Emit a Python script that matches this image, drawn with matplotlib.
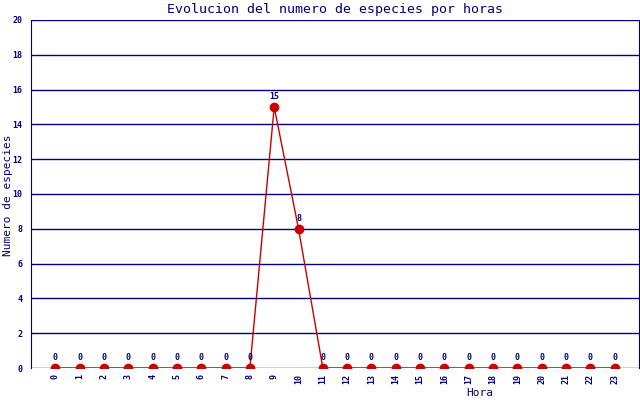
import matplotlib.pyplot as plt

horas = list(range(24))
especies = [0, 0, 0, 0, 0, 0, 0, 0, 0, 15, 8, 0, 0, 0, 0, 0, 0, 0, 0, 0, 0, 0, 0, 0]
y_ticks = [0, 2, 4, 6, 8, 10, 12, 14, 16, 18, 20]

navy = "#000080"
red = "#cc0000"

fig = plt.figure(figsize=(6.4, 4.0), dpi=100)
ax = fig.add_axes([31 / 640, 32 / 400, 608 / 640, 348 / 400])

ax.set_xlim(-1, 24)
ax.set_ylim(0, 20)

for t in y_ticks:
    ax.axhline(t, color=navy, linewidth=1, zorder=1)

ax.plot(horas, especies, color=red, linewidth=1, marker="o",
        markersize=6, markerfacecolor=red, markeredgecolor=red, zorder=3)

for h, v in zip(horas, especies):
    ax.annotate(str(v), (h, v), xytext=(0, 4), textcoords="offset points",
                ha="center", va="bottom", fontsize=6, color=navy,
                family="DejaVu Sans Mono", fontweight="bold")

ax.set_xticks(horas)
ax.set_xticklabels([str(h) for h in horas], rotation=90, fontsize=6,
                   color=navy, family="DejaVu Sans Mono", fontweight="bold")
ax.set_yticks(y_ticks)
ax.set_yticklabels([str(t) for t in y_ticks], fontsize=6, color=navy,
                   family="DejaVu Sans Mono", fontweight="bold")
ax.tick_params(axis="x", length=0, pad=4)
ax.tick_params(axis="y", length=0, pad=6)

for side in ["top", "bottom"]:
    ax.spines[side].set_visible(False)
ax.spines["left"].set_color(navy)
ax.spines["right"].set_color(navy)

fig.text(335 / 640, 1 - 9 / 400, "Evolucion del numero de especies por horas",
         ha="center", va="center", fontsize=9.5, color=navy,
         family="DejaVu Sans Mono")
fig.text(480 / 640, 1 - 393 / 400, "Hora", ha="center", va="center",
         fontsize=8, color=navy, family="DejaVu Sans Mono")
fig.text(8 / 640, 1 - 195 / 400, "Numero de especies", ha="center",
         va="center", rotation=90, fontsize=8, color=navy,
         family="DejaVu Sans Mono")

fig.savefig("out.png", dpi=100)
